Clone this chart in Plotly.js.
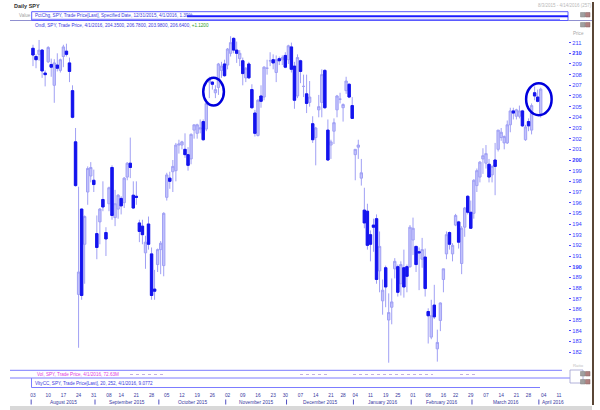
<!DOCTYPE html>
<html><head><meta charset="utf-8">
<script src="https://cdn.plot.ly/plotly-3.0.1.min.js"></script>
<style>html,body{margin:0;padding:0;background:#fff}#chart{width:600px;height:410px}</style>
</head><body><div id="chart"></div>
<script>
// ---- categories: trading days (Aug 3 2015 - Apr 1 2016) ----
const monthDays = [
  ['2015-08', '03 04 05 06 07 10 11 12 13 14 17 18 19 20 21 24 25 26 27 28 31'],
  ['2015-09', '01 02 03 04 08 09 10 11 14 15 16 17 18 21 22 23 24 25 28 29 30'],
  ['2015-10', '01 02 05 06 07 08 09 12 13 14 15 16 19 20 21 22 23 26 27 28 29 30'],
  ['2015-11', '02 03 04 05 06 09 10 11 12 13 16 17 18 19 20 23 24 25 27 30'],
  ['2015-12', '01 02 03 04 07 08 09 10 11 14 15 16 17 18 21 22 23 24 28 29 30 31'],
  ['2016-01', '04 05 06 07 08 11 12 13 14 15 19 20 21 22 25 26 27 28 29'],
  ['2016-02', '01 02 03 04 05 08 09 10 11 12 16 17 18 19 22 23 24 25 26 29'],
  ['2016-03', '01 02 03 04 07 08 09 10 11 14 15 16 17 18 21 22 23 24 28 29 30 31'],
  ['2016-04', '01']
];
const futureDays = ['2016-04-04','2016-04-05','2016-04-06','2016-04-07','2016-04-08','2016-04-11','2016-04-12','2016-04-13','2016-04-14','2016-04-15'];

// ---- series values (SPY daily OHLC) ----
const openP = [
 210.47,209.70,209.90,210.30,208.15,209.20,208.95,207.00,208.90,208.40,209.70,210.20,209.10,206.50,201.70,187.40,195.40,192.10,197.00,198.50,198.10,
 193.10,194.20,196.30,193.20,195.90,199.30,194.60,195.40,196.40,196.00,198.40,199.70,196.70,196.60,194.10,193.80,191.30,194.00,191.20,187.90,190.20,
 191.60,190.10,196.50,198.30,198.90,199.00,201.40,201.40,201.00,200.50,200.10,202.80,202.50,202.90,203.60,202.90,207.30,207.30,206.30,206.80,208.40,209.00,
 208.90,210.00,211.40,210.30,209.50,209.30,207.70,209.00,206.60,204.40,202.30,206.00,205.90,208.60,209.30,209.40,208.20,209.50,209.40,209.80,
 209.40,210.60,208.80,206.00,209.30,206.90,206.20,205.40,203.40,202.10,204.70,205.40,208.40,202.80,201.40,202.70,204.70,205.70,204.90,206.50,207.10,205.10,
 200.50,201.20,198.30,195.30,195.20,193.00,193.90,194.50,189.60,186.80,189.90,185.00,186.20,189.80,190.00,188.40,189.90,190.00,190.00,
 192.50,191.90,191.40,190.70,190.90,185.80,183.40,186.40,182.30,184.96,188.80,191.20,193.20,191.20,193.90,194.20,190.30,193.70,196.60,195.10,
 195.00,197.60,198.40,200.10,199.70,199.60,198.60,200.00,201.00,202.10,201.60,201.60,203.30,204.60,204.10,204.10,204.60,201.90,203.60,202.80,206.30,205.90,
 204.35];
const highP = [
 210.80,209.90,211.25,210.40,208.40,210.67,209.50,209.45,210.00,209.50,210.80,210.90,209.60,207.00,203.00,197.50,195.45,194.80,199.40,199.80,199.10,
 194.80,195.50,198.00,193.70,197.50,199.50,197.20,196.80,196.60,198.40,199.80,202.10,198.00,198.00,194.40,194.40,192.90,194.70,191.80,189.70,191.70,
 192.40,195.10,198.80,198.90,200.00,201.60,201.90,201.80,202.50,201.20,202.50,203.30,203.40,203.80,203.80,205.50,207.80,207.40,207.00,209.10,209.20,209.40,
 210.50,211.60,211.50,211.10,210.30,209.60,208.70,209.20,207.10,204.70,205.70,207.00,208.80,209.40,210.10,209.90,209.80,209.70,209.80,210.10,
 210.80,211.00,209.20,209.90,209.40,208.00,208.00,207.40,204.10,203.10,206.10,208.50,208.50,203.80,201.90,203.90,206.10,206.30,205.30,207.80,207.20,205.90,
 201.00,201.90,200.10,197.40,195.90,193.40,194.50,194.90,193.30,188.80,190.10,187.50,188.90,190.80,190.20,190.50,191.60,190.20,193.90,
 194.60,191.97,191.80,192.70,191.70,186.10,186.90,188.30,184.10,186.65,189.80,193.30,193.30,192.20,194.95,194.30,193.80,195.60,196.70,196.20,
 198.20,199.20,199.90,201.10,201.40,200.10,199.50,201.60,202.80,203.00,202.30,203.70,204.90,204.90,204.80,205.10,204.70,203.30,203.90,205.30,206.90,206.60,
 206.78];
const lowP = [
 208.80,208.60,209.30,207.70,206.90,209.10,207.80,205.36,208.30,208.20,208.70,209.70,207.30,203.90,197.50,182.40,186.90,188.40,195.80,197.90,197.00,
 190.70,192.10,195.20,191.00,195.20,194.40,193.80,194.50,194.90,195.50,198.10,198.30,195.40,195.80,192.30,192.10,189.80,191.60,186.90,186.90,189.50,
 189.30,189.10,196.20,197.30,197.00,198.00,200.60,201.00,200.20,199.00,199.60,202.00,202.00,202.50,201.80,202.70,205.80,206.60,205.80,206.10,207.70,207.80,
 208.50,209.70,210.00,209.10,208.80,207.00,207.30,207.60,204.80,202.20,202.20,204.90,205.60,208.00,208.80,208.50,207.30,208.90,208.90,208.60,
 209.00,208.20,204.80,205.80,207.20,205.90,204.40,205.00,201.60,199.50,204.00,204.00,204.80,199.90,200.10,201.50,204.00,205.30,203.60,206.20,205.80,203.90,
 198.10,200.10,197.60,193.60,191.60,190.50,191.40,188.40,187.60,185.50,186.20,181.00,184.60,188.90,187.20,187.30,187.10,187.60,189.90,
 191.10,189.50,187.80,189.90,187.20,182.80,183.20,185.10,181.10,183.96,187.60,190.70,191.60,190.50,193.80,191.70,189.30,192.80,194.90,193.60,
 194.50,197.00,197.90,198.70,199.20,197.90,197.90,196.70,200.80,201.80,201.00,201.50,202.60,203.80,203.80,203.90,203.10,201.80,202.70,202.40,205.60,205.40,
 203.98];
const closeP = [
 209.84,209.40,210.30,208.35,208.00,210.55,208.70,209.10,208.60,209.40,210.60,209.90,208.30,204.00,197.60,189.50,187.30,194.70,199.20,199.30,197.70,
 191.80,195.40,195.60,192.60,197.40,194.80,195.90,196.70,195.70,198.30,199.70,199.30,195.50,196.50,193.30,193.00,192.30,192.10,187.30,187.70,191.60,
 192.20,195.00,198.60,198.00,199.40,201.40,201.50,201.70,200.50,199.50,202.40,203.30,203.30,203.00,201.90,205.30,207.50,207.10,206.60,209.00,208.80,207.90,
 210.40,211.00,210.30,210.00,210.00,208.10,208.60,207.70,204.90,202.50,205.60,205.50,208.70,208.60,209.30,209.10,209.40,209.30,209.60,208.70,
 210.70,208.50,205.60,209.60,208.30,206.90,205.30,205.90,201.90,203.00,205.00,208.00,204.90,200.00,201.70,203.50,206.00,205.70,205.20,207.40,205.90,203.90,
 201.00,201.40,198.80,194.10,192.00,192.10,193.70,188.80,191.90,187.80,188.10,185.70,186.70,190.50,187.60,190.20,188.10,189.10,193.70,
 193.60,190.20,191.30,191.60,187.95,185.40,185.40,185.30,182.90,186.60,189.80,193.00,192.10,192.00,194.80,192.30,193.60,195.50,195.10,193.60,
 198.10,199.00,199.80,200.40,200.60,198.40,199.40,199.40,202.80,202.60,202.20,203.30,204.60,204.40,204.70,204.60,203.20,203.10,203.20,205.10,206.00,205.50,
 206.64];

// ---- tick labels ----
const tickDates = ['2015-08-03','2015-08-10','2015-08-17','2015-08-24','2015-08-31','2015-09-08','2015-09-14','2015-09-21','2015-09-28',
  '2015-10-05','2015-10-12','2015-10-19','2015-10-26','2015-11-02','2015-11-09','2015-11-16','2015-11-23','2015-11-30',
  '2015-12-07','2015-12-14','2015-12-21','2015-12-28','2016-01-04','2016-01-11','2016-01-19','2016-01-25',
  '2016-02-01','2016-02-08','2016-02-16','2016-02-22','2016-02-29','2016-03-07','2016-03-14','2016-03-21','2016-03-28','2016-04-04','2016-04-11'];
const monthLabels = ['August 2015','September 2015','October 2015','November 2015','December 2015','January 2016','February 2016','March 2016','April 2016'];
const monthStarts = ['2015-08-03','2015-09-01','2015-10-01','2015-11-02','2015-12-01','2016-01-04','2016-02-01','2016-03-01','2016-04-01'];
const priceTicks = [182,183,184,185,186,187,188,189,190,191,192,193,194,195,196,197,198,199,200,201,202,203,204,205,206,207,208,209,210,211];
const boldTicks = [190,200,210];

// ---- build ----
const tradeDates = [];
monthDays.forEach(([m, ds]) => ds.split(' ').forEach(d => tradeDates.push(m + '-' + d)));
const axisDates = tradeDates.concat(futureDays);
const idx = tradeDates.map((d, i) => i);
const pos = d => axisDates.indexOf(d);

const XMIN = -1.64, XMAX = 175.98;
const PX = x => x / 600, PY = y => 1 - y / 410;

const LIGHT_LINE = '#a0a0f4', LIGHT_FILL = '#c2c2fc', DARK = '#1414ee';

const dn = idx.filter(i => closeP[i] < openP[i]);
const traces = [
  { type: 'candlestick', x: idx, open: openP, high: highP, low: lowP, close: closeP,
    increasing: { line: { color: LIGHT_LINE, width: 1 }, fillcolor: LIGHT_FILL },
    decreasing: { line: { color: LIGHT_LINE, width: 1 }, fillcolor: DARK },
    whiskerwidth: 0, hoverinfo: 'skip', showlegend: false },
  { type: 'candlestick', x: dn, open: dn.map(i => openP[i]), high: dn.map(i => openP[i]),
    low: dn.map(i => closeP[i]), close: dn.map(i => closeP[i]),
    increasing: { line: { color: DARK, width: 1 }, fillcolor: DARK },
    decreasing: { line: { color: DARK, width: 1 }, fillcolor: DARK },
    whiskerwidth: 0, hoverinfo: 'skip', showlegend: false }
];

const F = 'Liberation Sans, Arial, sans-serif';
const annotations = [];
const shapes = [];
function txt(x, y, text, size, color, opts) {
  annotations.push(Object.assign({ xref: 'paper', yref: 'paper', x: PX(x), y: PY(y), text: text, showarrow: false,
    xanchor: 'left', yanchor: 'middle', font: { family: F, size: size, color: color } }, opts || {}));
}
function hline(x0, x1, y, color, w) {
  shapes.push({ type: 'line', xref: 'paper', yref: 'paper', x0: PX(x0), x1: PX(x1), y0: PY(y), y1: PY(y), line: { color: color, width: w || 1 } });
}
function vline(x, y0, y1, color, w) {
  shapes.push({ type: 'line', xref: 'paper', yref: 'paper', x0: PX(x), x1: PX(x), y0: PY(y0), y1: PY(y1), line: { color: color, width: w || 1 } });
}
function rect(x0, y0, x1, y1, line, fill, w) {
  shapes.push({ type: 'rect', xref: 'paper', yref: 'paper', x0: PX(x0), x1: PX(x1), y0: PY(y0), y1: PY(y1),
    line: { color: line, width: w === undefined ? 1 : w }, fillcolor: fill || 'rgba(0,0,0,0)' });
}

// header
txt(12, 6, '<b>Daily SPY</b>', 5.5, '#303030');
txt(536, 5, '8/3/2015 - 4/14/2016 (257)', 4.5, '#b8b8b8');
txt(17, 15.5, 'Value', 4.5, '#a0a0a0');
hline(10, 32, 20.5, '#9090d0');
rect(31.7, 11.7, 568, 20.5, '#5a5aff', null, 1);
hline(187, 568, 16.3, '#1c1cff', 2);
hline(32, 560, 19.3, '#8c8cff', 1.2);
hline(568, 593, 20.5, '#9090d0');
txt(33, 15.3, 'PctChg, SPY, Trade Price[Last], Specified Date, 12/31/2015, 4/1/2016, 1.39%', 4.6, '#3a3ae0');
txt(33, 25, 'Ondl, SPY, Trade Price, 4/1/2016, 204.3500, 206.7800, 203.9800, 206.6400, <span style="color:#2a9a2a">+1.1200</span>', 4.6, '#3a3ae0');
txt(571, 34, 'Price', 4.6, '#a8a8a8');
rect(580.5, 12.5, 585, 17, '#808080', '#a0a0a0', 0.5);
rect(585.5, 12.5, 590, 17, '#806060', '#b08080', 0.5);
rect(580.5, 22.5, 585, 27, '#808080', '#a0a0a0', 0.5);
rect(585.5, 22.5, 590, 27, '#806060', '#b08080', 0.5);

// lower panels
hline(10, 562, 370.3, '#7c7cff', 1);
txt(35, 374.5, 'Vol, SPY, Trade Price, 4/1/2016, 72.63M', 4.6, '#e040e0');
hline(10, 570, 378, '#7c7cff', 1);
txt(33, 383, 'VltyCC, SPY, Trade Price[Last], 20, 252, 4/1/2016, 9.0772', 4.6, '#3a3ae0');
vline(31.5, 378, 387.5, '#7c7cff', 1);
hline(31.5, 540, 387.5, '#7c7cff', 1);
txt(571, 365.5, 'Ratio', 4.3, '#c0c0c0');
rect(570, 370, 583, 383, '#a0a0d0', null, 0.8);
rect(580.5, 371.5, 585, 376, '#808080', '#a0a0a0', 0.5);
rect(585.5, 371.5, 590, 376, '#806060', '#b08080', 0.5);
rect(580.5, 379.5, 585, 384, '#808080', '#a0a0a0', 0.5);
rect(585.5, 379.5, 590, 384, '#806060', '#b08080', 0.5);
[[130,165],[300,330],[353,433],[460,475]].forEach(([a,b]) => shapes.push({ type: 'line', xref: 'paper', yref: 'paper',
  x0: PX(a), x1: PX(b), y0: PY(374.5), y1: PY(374.5), line: { color: '#c0b0e0', width: 1, dash: 'dot' } }));

// bottom strip and right border
rect(10, 406, 592, 410, '#d4d4d4', '#d8d8d8', 0);
vline(593, 2, 405, '#5a4636', 2);

// month labels & separators
monthStarts.forEach((d, k) => {
  const s = pos(d);
  const e = k + 1 < monthStarts.length ? pos(monthStarts[k + 1]) : XMAX;
  shapes.push({ type: 'line', xref: 'x', yref: 'paper', x0: s - 0.6, x1: s - 0.6, y0: PY(399.5), y1: PY(404.5), line: { color: '#5050c0', width: 1 } });
  annotations.push({ xref: 'x', yref: 'paper', x: (s + e - 1) / 2, y: PY(402), text: monthLabels[k], showarrow: false,
    xanchor: 'center', yanchor: 'middle', font: { family: F, size: 4.8, color: '#3838a0' } });
});

// highlight circles
shapes.push({ type: 'circle', xref: 'x', yref: 'y', x0: 56.0, x1: 62.8, y0: 205.1, y1: 207.7, line: { color: '#0000dd', width: 2.5 } });
shapes.push({ type: 'circle', xref: 'x', yref: 'y', x0: 162.2, x1: 170.6, y0: 204.2, y1: 207.2, line: { color: '#0000dd', width: 2.5 } });

const layout = {
  width: 600, height: 410, margin: { l: 0, r: 0, t: 0, b: 0 },
  paper_bgcolor: '#ffffff', plot_bgcolor: '#ffffff', showlegend: false,
  boxgap: 0.12, boxgroupgap: 0.12,
  xaxis: { domain: [PX(28), PX(568)], range: [XMIN, XMAX], anchor: 'free', position: PY(391),
    tickmode: 'array', tickvals: tickDates.map(pos), ticktext: tickDates.map(d => d.slice(8)),
    ticks: '', showgrid: false, zeroline: false, showline: false, fixedrange: true,
    rangeslider: { visible: false }, tickfont: { family: F, size: 4.8, color: '#3838a0' } },
  yaxis: { domain: [PY(368), PY(35)], range: [180.504, 211.716], side: 'right', anchor: 'x',
    tickmode: 'array', tickvals: priceTicks, ticktext: priceTicks.map(v => boldTicks.includes(v) ? '<b>' + v + '</b>' : String(v)),
    ticks: 'outside', ticklen: 2, tickwidth: 1, tickcolor: '#4a4aff',
    showgrid: false, zeroline: false, showline: false, fixedrange: true,
    tickfont: { family: F, size: 5.8, color: '#3a3aff' } },
  shapes: shapes, annotations: annotations
};
Plotly.newPlot('chart', traces, layout, { displayModeBar: false, staticPlot: true });
</script></body></html>
